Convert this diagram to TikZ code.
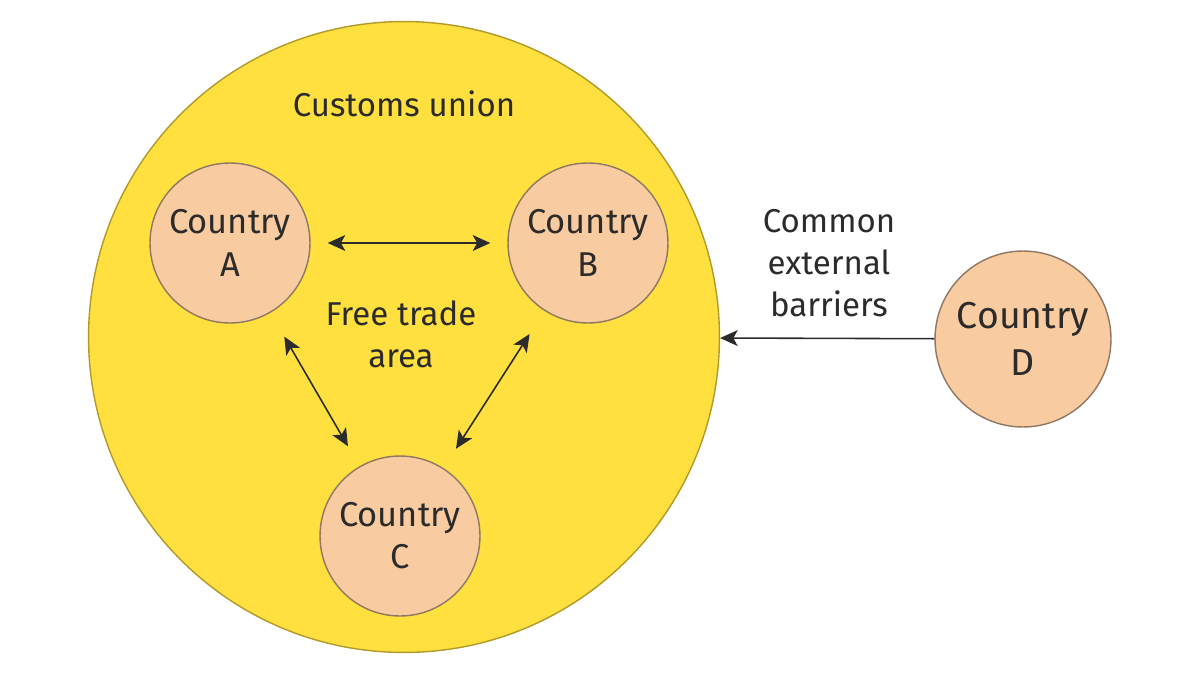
\documentclass[tikz,border=0pt]{standalone}
\usepackage{fontspec}
\setmainfont{Fira Sans}
\usetikzlibrary{arrows.meta}
\definecolor{unionyellow}{HTML}{FFE03F}
\definecolor{unionline}{HTML}{B09A2A}
\definecolor{countryfill}{HTML}{F9CBA0}
\definecolor{countryline}{HTML}{8E7862}
\definecolor{ink}{HTML}{2B2B2B}
\begin{document}
\begin{tikzpicture}[x=0.02cm,y=-0.02cm,
  country/.style={circle, draw=countryline, fill=countryfill, line width=0.8pt, minimum size=3.2cm, inner sep=0pt, align=center, text=ink, font=\fontsize{19.6}{24}\selectfont},
  lbl/.style={align=center, text=ink, font=\fontsize{18.8}{24}\selectfont},
  link/.style={{Stealth[length=10pt,width=9pt,inset=2.5pt]}-{Stealth[length=10pt,width=9pt,inset=2.5pt]}, ink, line width=0.9pt}]
\useasboundingbox (0,0) rectangle (1200,676);
\node[circle, draw=unionline, fill=unionyellow, line width=0.8pt, minimum size=12.62cm, inner sep=0pt] (cu) at (404,337){};
\node[lbl] (cutext) at (404,104){Customs union};
\node[lbl] (fta) at (401,334){Free trade\\area};
\node[country] (ca) at (230,243){Country\\A};
\node[country] (cb) at (588,243){Country\\B};
\node[country] (cc) at (400,536){Country\\C};
\node[country, minimum size=3.52cm, font=\fontsize{21.3}{27}\selectfont] (cd) at (1023,339){Country\\D};
\node[lbl] (ceb) at (829,263){Common\\external\\barriers};
\draw[link, shorten <=0.34cm, shorten >=0.34cm](ca) -- (cb);
\draw[link, shorten <=0.55cm, shorten >=0.46cm](ca) -- (cc);
\draw[link, shorten <=0.55cm, shorten >=0.46cm](cb) -- (cc);
\draw[-{Stealth[length=10pt,width=9pt,inset=2.5pt]}, ink, line width=0.9pt](cd) -- (cu);
\end{tikzpicture}
\end{document}
